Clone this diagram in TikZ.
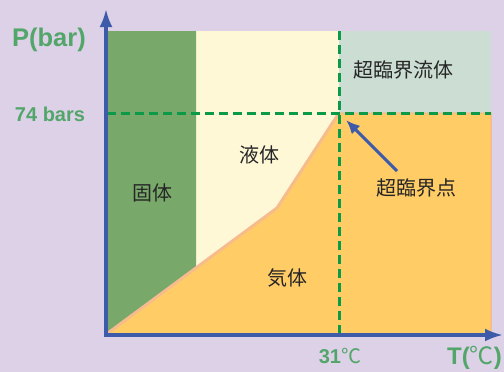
\documentclass[tikz,border=0pt]{standalone}
\usepackage{fontspec}
\setmainfont{Liberation Sans}
\newfontfamily\cjk{Noto Sans CJK JP}
\usetikzlibrary{arrows.meta,positioning}
\definecolor{lavande}{HTML}{DDD1E7}
\definecolor{solide}{HTML}{78A86A}
\definecolor{liquide}{HTML}{FEF8D7}
\definecolor{fluide}{HTML}{CCDED3}
\definecolor{gaz}{HTML}{FFCC66}
\definecolor{bord}{HTML}{F7BC8C}
\definecolor{tirets}{HTML}{0A9A48}
\definecolor{axe}{HTML}{3D5BA9}
\definecolor{etiq}{HTML}{52A66A}
\colorlet{noir}{black!85}
\newcommand\degc{{\cjk\mdseries ℃}}
\tikzset{
  axis/.style={draw=axe,line width=3.2pt,-{Latex[length=18pt,width=13pt]}},
  repere/.style={draw=tirets,line width=3pt,dash pattern=on 9pt off 5pt},
  phase/.style={font=\cjk\fontsize{20}{20}\selectfont,text=noir,inner sep=0pt},
  graduation/.style={text=etiq,inner sep=0pt}
}
\begin{document}
\begin{tikzpicture}[x=1pt,y=-1pt]%
        \fill[lavande] (0,0) rectangle (504,372);%%
        \useasboundingbox (0,0) rectangle (504,372);%%
        %% zones du diagramme
        \fill[liquide] (106,31) rectangle (339,335);%%
        \fill[fluide] (339,31) rectangle (491,113);%%
        \filldraw[fill=gaz,draw=bord,line width=1.5pt] (107,334) -- (277,208) -- (339,113) -- (491,113) -- (491,335) -- (107,335) -- cycle;%%
        \fill[solide] (106,31) -- (196,31) -- (196,267) -- (106,334) -- cycle;%%
        \draw[bord,line width=3pt,line join=round] (108,333) -- (277,208) -- (339,113);%%
        %% reperes
        \coordinate (cp) at (339,113);%%
        \coordinate (p74) at (107,113);%%
        \coordinate (pend) at (491,113);%%
        \coordinate (t31) at (339,335);%%
        \coordinate (ttop) at (339,31);%%
        \draw[repere] (p74) -- (pend);%%
        \draw[repere] (ttop) -- (t31);%%
        %% axes
        \coordinate (o) at (106,336);%%
        \coordinate (ox) at (104,335);%%
        \coordinate (py) at (106,9);%%
        \coordinate (tx) at (503,335);%%
        \draw[axis] (o) -- (py);%%
        \draw[axis] (ox) -- (tx);%%
        %% textes
        \node[graduation,font=\bfseries\fontsize{25.5}{25.5}\selectfont] (pbar) at (49,40) {P(bar)};%%
        \node[graduation,font=\bfseries\fontsize{20}{20}\selectfont] (bars) at (50,114) {74 bars};%%
        \node[graduation,font=\bfseries\fontsize{20}{20}\selectfont] (c31) at (340,356) {31\degc};%%
        \node[graduation,font=\bfseries\fontsize{24}{24}\selectfont,anchor=west] (tc) at (447,358) {T(\degc)};%%
        \node[phase] (sol) at (152,193) {固体};%%
        \node[phase] (liq) at (259,155) {液体};%%
        \node[phase] (gas) at (287,278) {気体};%%
        \node[phase] (flu) at (403,70) {超臨界流体};%%
        \node[phase] (pcr) at (416,188) {超臨界点};%%
        \coordinate (pointe) at (397,171);%%
        \draw[draw=axe,line width=3pt,shorten >=10pt,-{Latex[length=14pt,width=12pt]}] (pointe) -- (cp);%%
\end{tikzpicture}
\end{document}
